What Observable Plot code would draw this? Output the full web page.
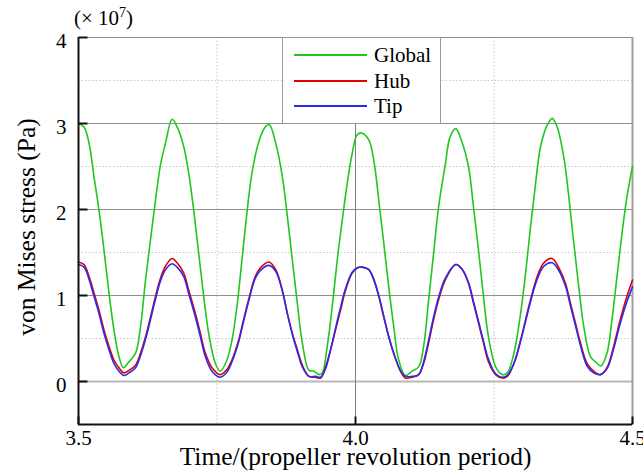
<!DOCTYPE html>
<html>
<head>
<meta charset="utf-8">
<script src="https://cdn.jsdelivr.net/npm/d3@7"></script>
<script src="https://cdn.jsdelivr.net/npm/@observablehq/plot@0.6"></script>
<style>
  body { margin: 0; background: #fff; }
  #wrap { position: relative; width: 643px; height: 475px; font-family: "Liberation Serif", "Times New Roman", serif; overflow: hidden; }
  #scale { position: absolute; left: 74px; top: 8px; font-size: 21px; line-height: 21px; color: #000; white-space: nowrap; }
  #scale sup { font-size: 14px; vertical-align: 8px; line-height: 0; }
  #legend { position: absolute; left: 282px; top: 37px; width: 159px; height: 87px; box-sizing: border-box;
            border: 1px solid #999; background: #fff; }
  .row { position: absolute; left: 0; height: 24px; display: flex; align-items: center; font-size: 21px; color: #000; }
  .sw { display: inline-block; width: 73px; height: 0; border-top: 2px solid; margin-left: 11px; margin-right: 7px; }
</style>
</head>
<body>
<div id="wrap"></div>
<script>
// ---------- data (values in units of 10^7 Pa) ----------
const xTicks = [3.5, 4.0, 4.5];
const yTicks = [0, 1, 2, 3, 4];
const yHalf = [0.5, 1.5, 2.5, 3.5];
const xQuarter = [3.75, 4.25];
const seriesNames = ["Global", "Hub", "Tip"];
const seriesColors = ["#1fc71f", "#e00000", "#2b2bef"];
const xTitle = "Time/(propeller revolution period)";
const yTitle = "von Mises stress (Pa)";

const globalTime = [
  3.500,3.510,3.519,3.528,3.537,3.546,3.555,3.564,3.573,3.581,
  3.591,3.603,3.612,3.621,3.630,3.639,3.648,3.657,3.669,3.678,
  3.690,3.699,3.708,3.717,3.726,3.735,3.747,3.756,3.768,3.777,
  3.786,3.795,3.804,3.813,3.825,3.835,3.844,3.856,3.868,3.877,
  3.886,3.895,3.904,3.916,3.925,3.934,3.940,3.949,3.958,3.967,
  3.976,3.985,3.994,4.003,4.011,4.024,4.033,4.042,4.051,4.060,
  4.069,4.078,4.090,4.102,4.114,4.123,4.132,4.141,4.150,4.162,
  4.171,4.181,4.193,4.204,4.213,4.222,4.231,4.240,4.253,4.265,
  4.274,4.286,4.298,4.307,4.316,4.325,4.334,4.346,4.355,4.364,
  4.376,4.385,4.394,4.403,4.412,4.424,4.433,4.443,4.454,4.463,
  4.472,4.481,4.490,4.500
];
const globalStress = [
  3.00,2.96,2.77,2.38,1.99,1.53,1.03,0.60,0.29,0.16,
  0.23,0.33,0.64,1.18,1.65,2.11,2.52,2.77,3.05,2.96,
  2.73,2.42,1.99,1.49,0.99,0.56,0.21,0.12,0.25,0.48,
  0.87,1.41,1.96,2.42,2.78,2.94,2.99,2.77,2.38,1.92,
  1.41,0.91,0.45,0.13,0.12,0.08,0.10,0.41,0.87,1.41,
  1.87,2.30,2.65,2.87,2.89,2.81,2.57,2.11,1.61,1.10,
  0.64,0.25,0.07,0.12,0.17,0.41,0.95,1.49,2.03,2.52,
  2.85,2.94,2.77,2.50,2.03,1.53,0.99,0.52,0.17,0.08,
  0.10,0.33,0.79,1.26,1.80,2.30,2.73,2.98,3.06,2.96,
  2.61,2.15,1.61,1.10,0.64,0.29,0.23,0.18,0.33,0.72,
  1.22,1.72,2.15,2.50
];

const bladeTime = [
  3.500,3.510,3.519,3.528,3.537,3.546,3.555,3.564,3.573,3.582,
  3.591,3.603,3.612,3.621,3.630,3.639,3.648,3.657,3.669,3.678,
  3.690,3.699,3.711,3.720,3.729,3.741,3.756,3.768,3.777,3.789,
  3.798,3.807,3.819,3.828,3.844,3.856,3.868,3.877,3.886,3.895,
  3.904,3.916,3.928,3.937,3.946,3.955,3.964,3.973,3.982,3.994,
  4.003,4.012,4.024,4.033,4.042,4.051,4.060,4.072,4.081,4.090,
  4.102,4.114,4.123,4.132,4.141,4.150,4.162,4.181,4.193,4.204,
  4.213,4.222,4.231,4.240,4.253,4.265,4.274,4.286,4.298,4.307,
  4.316,4.328,4.340,4.355,4.367,4.379,4.388,4.397,4.406,4.418,
  4.430,4.442,4.454,4.466,4.478,4.490,4.500
];
const hubStress = [
  1.39,1.36,1.22,1.03,0.83,0.60,0.41,0.25,0.16,0.10,
  0.13,0.19,0.33,0.52,0.75,0.99,1.20,1.34,1.43,1.38,
  1.26,1.06,0.79,0.56,0.33,0.16,0.08,0.14,0.25,0.48,
  0.72,0.95,1.22,1.32,1.39,1.30,1.06,0.79,0.56,0.37,
  0.19,0.06,0.05,0.04,0.17,0.37,0.60,0.83,1.06,1.26,
  1.32,1.33,1.30,1.18,0.99,0.75,0.52,0.27,0.12,0.04,
  0.05,0.08,0.21,0.45,0.72,0.95,1.18,1.36,1.30,1.14,
  0.91,0.68,0.45,0.23,0.08,0.04,0.06,0.21,0.48,0.72,
  0.95,1.22,1.38,1.43,1.32,1.14,0.91,0.68,0.45,0.21,
  0.12,0.08,0.16,0.41,0.72,0.99,1.18
];
const tipStress = [
  1.36,1.33,1.19,0.99,0.79,0.56,0.37,0.21,0.12,0.07,
  0.10,0.16,0.30,0.49,0.72,0.96,1.17,1.30,1.37,1.33,
  1.22,1.02,0.75,0.52,0.29,0.12,0.05,0.11,0.23,0.46,
  0.70,0.93,1.20,1.29,1.35,1.28,1.05,0.79,0.55,0.35,
  0.17,0.06,0.06,0.05,0.15,0.37,0.62,0.86,1.08,1.27,
  1.32,1.33,1.30,1.19,1.00,0.76,0.52,0.27,0.13,0.06,
  0.06,0.08,0.23,0.48,0.75,0.98,1.20,1.36,1.30,1.15,
  0.93,0.70,0.47,0.26,0.09,0.05,0.07,0.21,0.47,0.70,
  0.93,1.19,1.34,1.38,1.29,1.11,0.88,0.65,0.42,0.18,
  0.10,0.08,0.15,0.38,0.68,0.93,1.10
];

// ---------- build tidy table ----------
const rows = [];
globalTime.forEach((t, i) => rows.push({series: "Global", t, v: globalStress[i]}));
bladeTime.forEach((t, i) => rows.push({series: "Hub", t, v: hubStress[i]}));
bladeTime.forEach((t, i) => rows.push({series: "Tip", t, v: tipStress[i]}));

const tickRight = {draw(ctx) { ctx.moveTo(0, 0); ctx.lineTo(9, 0); }};
const tickUp = {draw(ctx) { ctx.moveTo(0, 0); ctx.lineTo(0, -8); }};

const chart = Plot.plot({
  width: 643,
  height: 475,
  marginLeft: 78,
  marginRight: 11,
  marginTop: 37,
  marginBottom: 51,
  style: {fontFamily: "'Liberation Serif', 'Times New Roman', serif", background: "#fff", color: "#000", overflow: "visible"},
  x: {domain: [3.5, 4.5], axis: null},
  y: {domain: [-0.5, 4], axis: null},
  color: {domain: seriesNames, range: seriesColors},
  marks: [
    // minor dotted grid
    Plot.ruleY(yHalf, {stroke: "#c8c8c8", strokeWidth: 1, strokeDasharray: "1.5,2"}),
    Plot.ruleX(xQuarter, {stroke: "#c8c8c8", strokeWidth: 1, strokeDasharray: "1.5,2"}),
    // major grid
    Plot.ruleY(yTicks.filter(d => d !== 0), {stroke: "#8e8e8e", strokeWidth: 1.2}),
    Plot.ruleY([0], {stroke: "#b8b8b8", strokeWidth: 2}),
    Plot.ruleX([4.0], {stroke: "#808080", strokeWidth: 1}),
    Plot.ruleX([4.5], {stroke: "#a0a0a0", strokeWidth: 2}),
    // series
    Plot.line(rows, {x: "t", y: "v", z: "series", stroke: "series", strokeWidth: 1.6, curve: "catmull-rom"}),
    // axes frame
    Plot.ruleX([3.5], {stroke: "#111", strokeWidth: 2}),
    Plot.ruleY([-0.5], {stroke: "#111", strokeWidth: 2}),
    // inward ticks
    Plot.dot(yTicks, {y: d => d, frameAnchor: "left", symbol: tickRight, stroke: "#111", strokeWidth: 2, fill: "none"}),
    Plot.dot(xTicks, {x: d => d, frameAnchor: "bottom", symbol: tickUp, stroke: "#111", strokeWidth: 2, fill: "none"}),
    // tick labels
    Plot.axisY(yTicks, {tickSize: 0, tickPadding: 12, fontSize: 21, dy: 4, label: null, tickFormat: d => String(d)}),
    Plot.axisX(xTicks, {tickSize: 0, tickPadding: 6, fontSize: 21, label: null, tickFormat: d3.format(".1f")}),
    // titles
    Plot.text([xTitle], {text: d => d, frameAnchor: "bottom", textAnchor: "middle", lineAnchor: "middle", dy: 32, fontSize: 25.5, fill: "#000"}),
    Plot.text([yTitle], {text: d => d, frameAnchor: "left", textAnchor: "middle", lineAnchor: "middle", rotate: -90, dx: -52, dy: -4, fontSize: 25.5, fill: "#000"})
  ]
});

const wrap = document.getElementById("wrap");
wrap.appendChild(chart);

const scale = document.createElement("div");
scale.id = "scale";
scale.innerHTML = "(× 10<sup>7</sup>)";
wrap.appendChild(scale);

const legend = document.createElement("div");
legend.id = "legend";
const rowTops = [5, 31, 56];
seriesNames.forEach((name, i) => {
  const r = document.createElement("div");
  r.className = "row";
  r.style.top = rowTops[i] + "px";
  const sw = document.createElement("span");
  sw.className = "sw";
  sw.style.borderTopColor = seriesColors[i];
  const lab = document.createElement("span");
  lab.textContent = name;
  r.appendChild(sw);
  r.appendChild(lab);
  legend.appendChild(r);
});
wrap.appendChild(legend);
</script>
</body>
</html>
